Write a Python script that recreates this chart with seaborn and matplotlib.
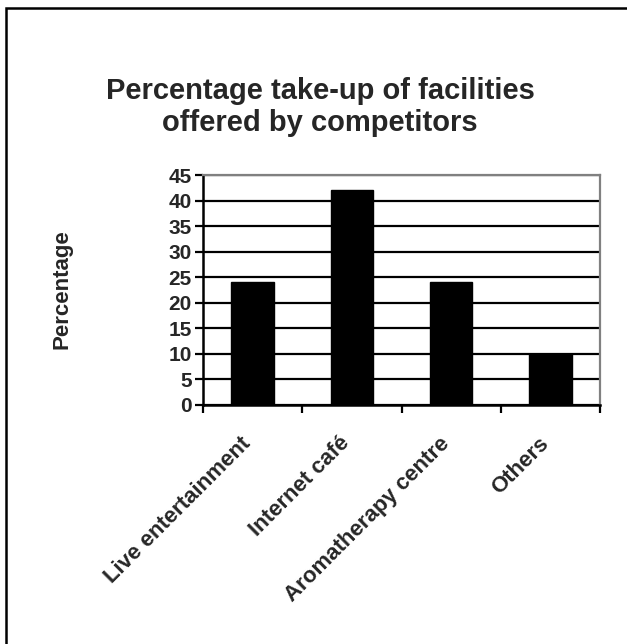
import matplotlib
matplotlib.use("Agg")
import matplotlib.pyplot as plt
import matplotlib.transforms as mtransforms
import seaborn as sns
from matplotlib.patches import Rectangle

categories = ["Live entertainment", "Internet café", "Aromatherapy centre", "Others"]
values = [24, 42, 24, 10]
y_ticks = [0, 5, 10, 15, 20, 25, 30, 35, 40, 45]

sns.set_style("white")
plt.rcParams["font.family"] = ["Liberation Sans", "DejaVu Sans"]
plt.rcParams["font.weight"] = "bold"

fig = plt.figure(figsize=(6.27, 6.44), dpi=100)
ax = fig.add_axes([203 / 627, 1 - 405 / 644, (600 - 203) / 627, (405 - 175) / 644])

sns.barplot(x=categories, y=values, color="black", width=0.43,
            edgecolor="black", saturation=1, ax=ax, zorder=3)

ax.set_ylim(0, 45)
ax.set_xlim(-0.5, 3.5)
ax.set_yticks(y_ticks)
ax.set_yticklabels([str(t) for t in y_ticks], fontsize=15, fontweight="bold")
ax.yaxis.grid(True, color="black", linewidth=1.6, zorder=0)
ax.set_axisbelow(True)

# x ticks at category boundaries, labels centred under bars
ax.set_xticks([i - 0.5 for i in range(len(categories) + 1)])
ax.set_xticklabels([])
ax.set_xticks(range(len(categories)), minor=True)
ax.set_xticklabels(categories, minor=True, rotation=45, ha="right",
                   rotation_mode="anchor", fontsize=16, fontweight="bold")
ax.tick_params(axis="x", which="major", direction="out", length=6, width=1.6, color="black", bottom=True)
ax.tick_params(axis="x", which="minor", length=0, pad=20)
ax.tick_params(axis="y", direction="out", length=6, width=1.6, color="black", left=True, pad=2)

shift = mtransforms.ScaledTranslation(-9 / 72, 0, fig.dpi_scale_trans)
for lbl in ax.get_xticklabels(minor=True):
    lbl.set_transform(lbl.get_transform() + shift)

for side in ["left", "bottom"]:
    ax.spines[side].set_color("black")
    ax.spines[side].set_linewidth(1.8)
for side in ["top", "right"]:
    ax.spines[side].set_visible(True)
    ax.spines[side].set_color("#808080")
    ax.spines[side].set_linewidth(1.6)

ax.set_xlabel("")
ax.set_ylabel("")
fig.text(62 / 627, 1 - 289 / 644, "Percentage", rotation=90, ha="center", va="center",
         fontsize=16, fontweight="bold")

fig.text(320 / 627, 1 - 107 / 644, "Percentage take-up of facilities\noffered by competitors",
         ha="center", va="center", fontsize=21, fontweight="bold", linespacing=1.2)

fig.patches.append(Rectangle((6 / 627, -0.02), 1.05, 1 - 8 / 644 + 0.02,
                             transform=fig.transFigure, fill=False,
                             edgecolor="black", linewidth=1.8))

plt.savefig("out.png", dpi=100)
plt.close()
